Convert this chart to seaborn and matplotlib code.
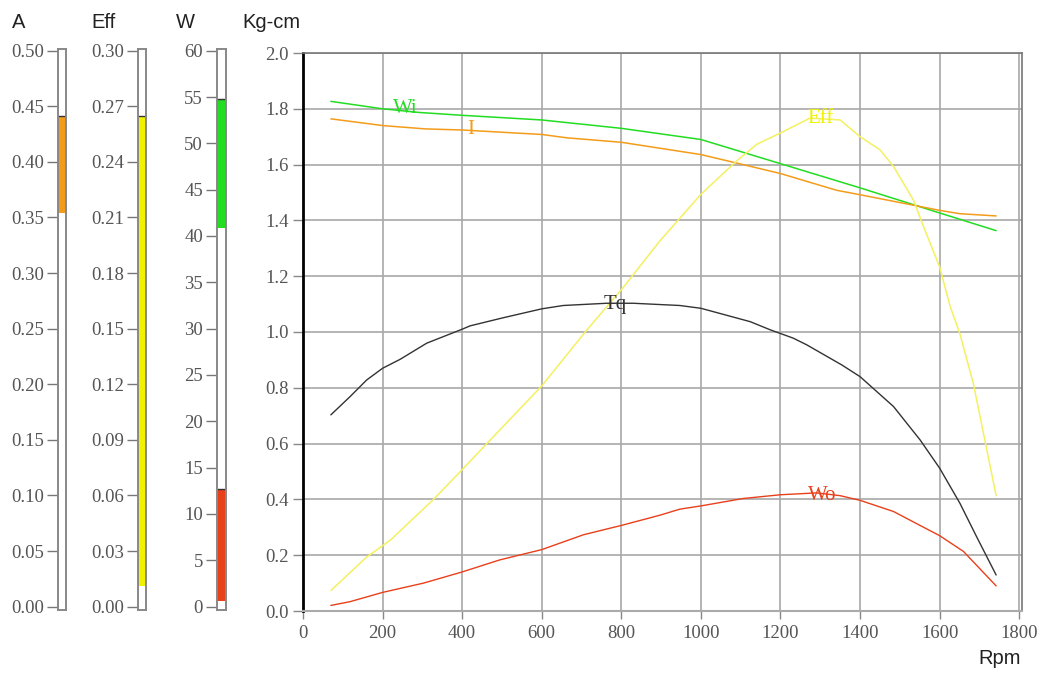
import numpy as np
import matplotlib
matplotlib.use("Agg")
import matplotlib.pyplot as plt
import seaborn as sns

# ---------------- data (real units) ----------------
rpm_wi = [70, 200, 294, 400, 600, 800, 1000, 1200, 1400, 1600, 1742]
wi_watt = [54.8, 54.0, 53.6, 53.3, 52.8, 51.9, 50.7, 48.1, 45.5, 42.8, 40.9]

rpm_i = [70, 200, 307, 400, 600, 663, 800, 1000, 1200, 1341, 1400, 1600, 1651, 1742]
i_amp = [0.441, 0.435, 0.432, 0.431, 0.427, 0.424, 0.420, 0.409, 0.392, 0.377, 0.373, 0.359, 0.356, 0.354]

rpm_tq = [70, 118, 160, 200, 244, 311, 400, 420, 500, 600, 654, 763, 830, 947, 1000,
          1124, 1174, 1232, 1266, 1354, 1400, 1484, 1551, 1600, 1651, 1693, 1742]
tq_kgcm = [0.703, 0.768, 0.828, 0.870, 0.902, 0.960, 1.010, 1.022, 1.050, 1.083, 1.095, 1.103,
           1.103, 1.095, 1.085, 1.037, 1.008, 0.978, 0.954, 0.882, 0.840, 0.733, 0.613, 0.512,
           0.386, 0.266, 0.129]

rpm_wo = [70, 118, 200, 303, 400, 495, 600, 705, 800, 897, 947, 1000, 1107, 1200, 1291,
          1350, 1400, 1484, 1600, 1660, 1742]
wo_watt = [0.6, 1.0, 2.0, 3.0, 4.2, 5.5, 6.6, 8.2, 9.2, 10.3, 10.95, 11.3, 12.1, 12.5, 12.7,
           12.4, 11.9, 10.7, 8.1, 6.4, 2.7]

rpm_eff = [70, 160, 219, 328, 400, 462, 600, 713, 805, 897, 1000, 1090, 1141, 1200, 1274,
           1350, 1400, 1450, 1484, 1534, 1559, 1600, 1626, 1651, 1685, 1742]
eff = [0.011, 0.029, 0.038, 0.060, 0.076, 0.090, 0.121, 0.151, 0.174, 0.199, 0.224, 0.242,
       0.251, 0.257, 0.265, 0.264, 0.255, 0.248, 0.239, 0.221, 0.207, 0.185, 0.164, 0.149,
       0.122, 0.062]

# axis full-scale values
A_MAX, EFF_MAX, W_MAX, TQ_MAX = 0.50, 0.30, 60, 2.0
a_ticks = [0.00, 0.05, 0.10, 0.15, 0.20, 0.25, 0.30, 0.35, 0.40, 0.45, 0.50]
eff_ticks = [0.00, 0.03, 0.06, 0.09, 0.12, 0.15, 0.18, 0.21, 0.24, 0.27, 0.30]
w_ticks = [0, 5, 10, 15, 20, 25, 30, 35, 40, 45, 50, 55, 60]
tq_ticks = [0.0, 0.2, 0.4, 0.6, 0.8, 1.0, 1.2, 1.4, 1.6, 1.8, 2.0]
rpm_ticks = [0, 200, 400, 600, 800, 1000, 1200, 1400, 1600, 1800]

C_I = "#f39c1a"
C_EFF = "#f2f200"
C_EFF_LINE = "#f4f060"
C_WI = "#22dd22"
C_WO = "#e8401a"
C_TQ = "#333333"

sns.set_theme(style="white")
plt.rcParams["font.family"] = ["Liberation Serif", "DejaVu Serif"]

W, H = 1043, 673
fig = plt.figure(figsize=(W / 100, H / 100), dpi=100)

def fx(px):
    return px / W

def fy(py):
    return 1 - py / H

TICK_FS = 13.5
TICK_COLOR = "#555555"
TITLE_FS = 14.5

# ---------------- main axes ----------------
ax = fig.add_axes([fx(303), fy(611), fx(1022) - fx(303), fy(53) - fy(611)])
ax.set_xlim(0, 1807)
ax.set_ylim(0, TQ_MAX)

sc = TQ_MAX
sns.lineplot(x=rpm_wi, y=[v * sc / W_MAX for v in wi_watt], ax=ax, color=C_WI, lw=1.1)
sns.lineplot(x=rpm_i, y=[v * sc / A_MAX for v in i_amp], ax=ax, color=C_I, lw=1.1)
sns.lineplot(x=rpm_eff, y=[v * sc / EFF_MAX for v in eff], ax=ax, color=C_EFF_LINE, lw=1.1)
sns.lineplot(x=rpm_tq, y=tq_kgcm, ax=ax, color=C_TQ, lw=1.0)
sns.lineplot(x=rpm_wo, y=[v * sc / W_MAX for v in wo_watt], ax=ax, color=C_WO, lw=1.0)

lab_kw = dict(fontsize=15, ha="center", va="center", family=["Liberation Serif"])
ax.text(256, 1.80, "Wi", color=C_WI, **lab_kw)
ax.text(422, 1.725, "I", color=C_I, **lab_kw)
ax.text(1302, 1.765, "Eff", color=C_EFF, **lab_kw)
ax.text(784, 1.097, "Tq", color=C_TQ, **lab_kw)
ax.text(1305, 0.413, "Wo", color=C_WO, **lab_kw)

ax.set_xticks(rpm_ticks)
ax.set_yticks(tq_ticks)
ax.set_xticklabels([str(t) for t in rpm_ticks])
ax.set_yticklabels([f"{t:.1f}" for t in tq_ticks])
ax.grid(True, color="#a8a8a8", lw=1.2)
ax.set_axisbelow(True)
ax.tick_params(axis="both", left=True, bottom=True, direction="out", length=7, width=1,
               color="#888888", labelsize=TICK_FS, labelcolor=TICK_COLOR, pad=3)
ax.tick_params(axis="x", pad=4, length=6)
for side, sp in ax.spines.items():
    sp.set_visible(True)
    sp.set_color("#777777")
    sp.set_linewidth(1.2)
ax.spines["left"].set_color("#000000")
ax.spines["left"].set_linewidth(2)
ax.spines["bottom"].set_color("#aaaaaa")
ax.spines["bottom"].set_linewidth(1.5)
ax.set_xlabel("")
ax.set_ylabel("")

# ---------------- gauges ----------------
def gauge(x0, x1, vmax, ticks, fmt, ranges):
    g = fig.add_axes([fx(x0), fy(610), fx(x1) - fx(x0), fy(49) - fy(610)])
    g.set_xlim(-0.5, 0.5)
    g.set_ylim(-0.006 * vmax, vmax * 1.003)
    for lo, hi, col in ranges:
        g.bar(0, hi - lo, bottom=lo, width=1.0, color=col, edgecolor="none")
        g.plot([-0.5, 0.5], [hi, hi], color="#333333", lw=1.0)
    g.set_xticks([])
    g.set_yticks(ticks)
    g.set_yticklabels([fmt(t) for t in ticks])
    g.tick_params(axis="y", left=True, direction="out", length=8, width=1, color="#777777",
                  labelsize=TICK_FS, labelcolor=TICK_COLOR, pad=2)
    for sp in g.spines.values():
        sp.set_visible(True)
        sp.set_color("#888888")
        sp.set_linewidth(1.4)
    return g

gauge(58, 66, A_MAX, a_ticks, lambda t: f"{t:.2f}", [(min(i_amp), max(i_amp), C_I)])
gauge(138, 146, EFF_MAX, eff_ticks, lambda t: f"{t:.2f}", [(min(eff), max(eff), C_EFF)])
gauge(217, 226, W_MAX, w_ticks, lambda t: f"{t:d}",
      [(min(wi_watt), max(wi_watt), C_WI), (min(wo_watt), max(wo_watt), C_WO)])

# ---------------- titles ----------------
tkw = dict(fontsize=TITLE_FS, va="center", ha="left", color="#222222",
           family=["Liberation Sans", "DejaVu Sans"])
fig.text(fx(12), fy(22), "A", **tkw)
fig.text(fx(91), fy(22), "Eff", **tkw)
fig.text(fx(176), fy(22), "W", **tkw)
fig.text(fx(242), fy(22), "Kg-cm", **tkw)
fig.text(fx(1021), fy(658), "Rpm", fontsize=TITLE_FS, va="center", ha="right",
         color="#222222", family=["Liberation Sans", "DejaVu Sans"])

fig.savefig("out.png", dpi=100, facecolor="white")
